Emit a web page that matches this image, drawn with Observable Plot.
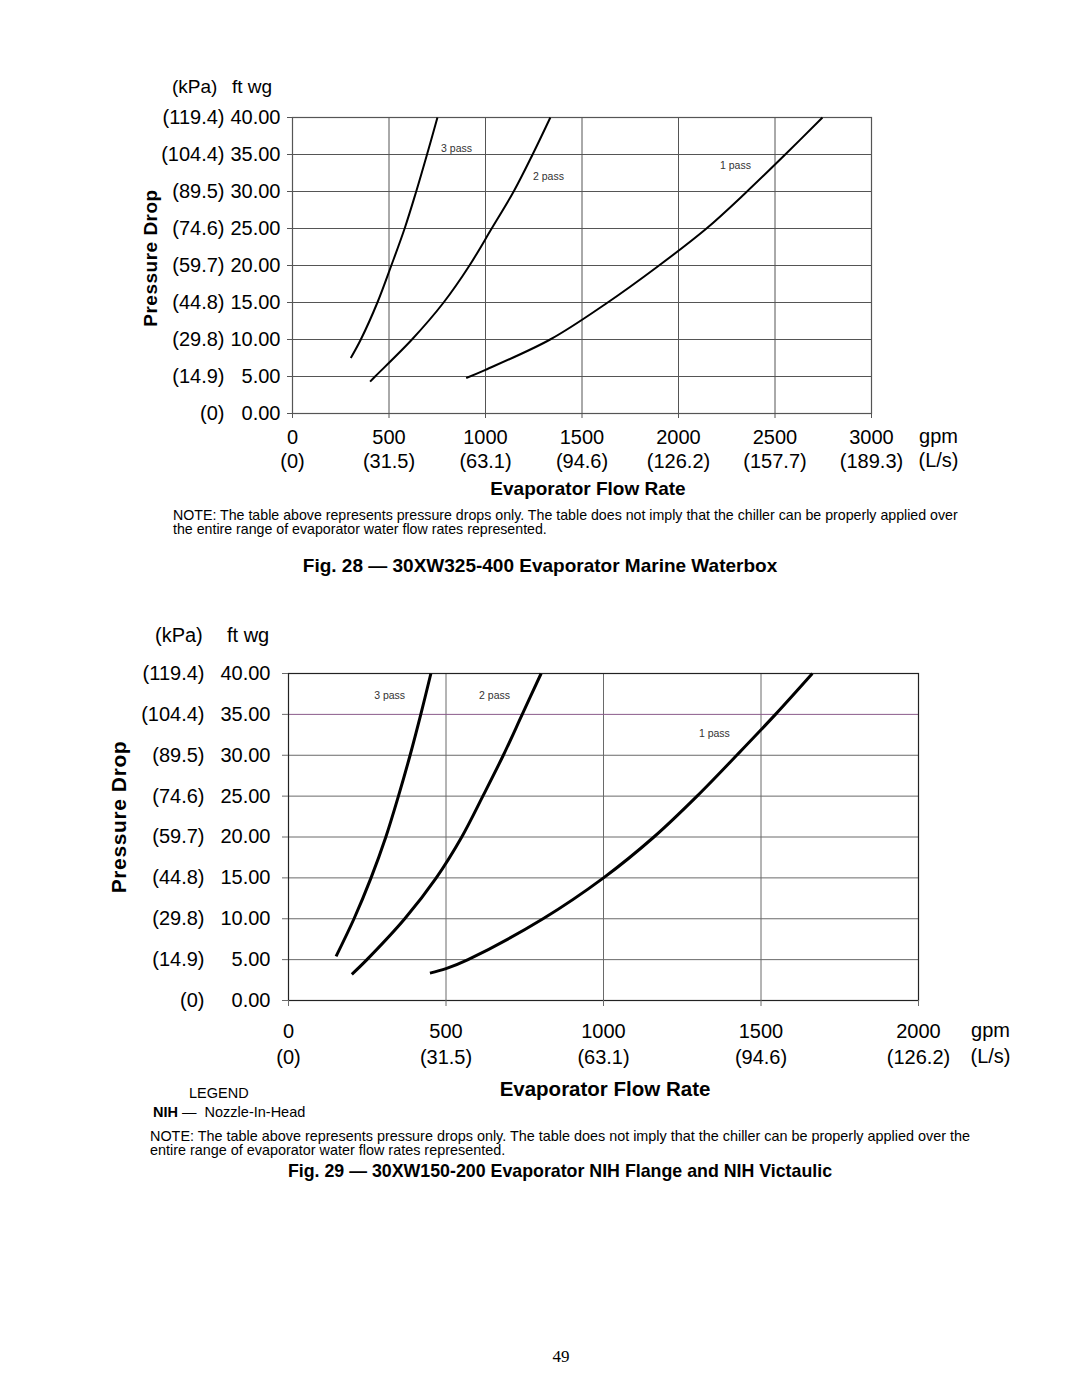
<!DOCTYPE html>
<html>
<head>
<meta charset="utf-8">
<script src="https://cdn.jsdelivr.net/npm/d3@7"></script>
<script src="https://cdn.jsdelivr.net/npm/@observablehq/plot@0.6"></script>
<style>
  html, body { margin: 0; padding: 0; background: #fff; }
  #page { position: relative; width: 1080px; height: 1397px; background: #fff; overflow: hidden;
          font-family: "Liberation Sans", Arial, Helvetica, sans-serif; color: #000; }
  .t { position: absolute; white-space: nowrap; line-height: 1; }
  .b { font-weight: bold; }
  svg { position: absolute; left: 0; overflow: visible; }
</style>
</head>
<body>
<div id="page">
  <!-- Figure 28 texts -->
  <div class="t" style="left:172px; top:77px; font-size:19px;">(kPa)</div>
  <div class="t" style="left:232px; top:77px; font-size:19px;">ft wg</div>
  <div class="t b" style="left:150px; top:258px; font-size:19px; transform: translate(-50%,-50%) rotate(-90deg); letter-spacing:0.5px;">Pressure Drop</div>
  <div class="t b" style="left:588px; top:488px; font-size:19px; transform: translate(-50%,-50%);">Evaporator Flow Rate</div>
  <div class="t" style="left:173px; top:508px; font-size:14.2px; line-height:14px;">NOTE: The table above represents pressure drops only. The table does not imply that the chiller can be properly applied over<br>the entire range of evaporator water flow rates represented.</div>
  <div class="t b" style="left:540px; top:565px; font-size:19px; transform: translate(-50%,-50%);">Fig. 28 — 30XW325-400 Evaporator Marine Waterbox</div>

  <!-- Figure 29 texts -->
  <div class="t" style="left:155px; top:625px; font-size:20px;">(kPa)</div>
  <div class="t" style="left:227px; top:625px; font-size:20px;">ft wg</div>
  <div class="t b" style="left:118px; top:817px; font-size:21px; transform: translate(-50%,-50%) rotate(-90deg); letter-spacing:0.6px;">Pressure Drop</div>
  <div class="t b" style="left:605px; top:1089px; font-size:20.5px; transform: translate(-50%,-50%);">Evaporator Flow Rate</div>
  <div class="t" style="left:189px; top:1086px; font-size:14.5px;">LEGEND</div>
  <div class="t" style="left:153px; top:1105px; font-size:14.5px;"><b>NIH</b> —&nbsp; Nozzle-In-Head</div>
  <div class="t" style="left:150px; top:1129px; font-size:14.4px; line-height:14px;">NOTE: The table above represents pressure drops only. The table does not imply that the chiller can be properly applied over the<br>entire range of evaporator water flow rates represented.</div>
  <div class="t b" style="left:560px; top:1172px; font-size:17.8px; transform: translate(-50%,-50%);">Fig. 29 — 30XW150-200 Evaporator NIH Flange and NIH Victaulic</div>

  <div class="t" style="left:561px; top:1356px; font-size:17px; font-family:'Liberation Serif','DejaVu Serif',serif; transform: translate(-50%,-50%);">49</div>
</div>
<script>
// ---------- shared tick data ----------
const ftTicks = [0, 5, 10, 15, 20, 25, 30, 35, 40];
const ftLabels = ["0.00", "5.00", "10.00", "15.00", "20.00", "25.00", "30.00", "35.00", "40.00"];
const kpaLabels = ["(0)", "(14.9)", "(29.8)", "(44.8)", "(59.7)", "(74.6)", "(89.5)", "(104.4)", "(119.4)"];

// ---------- Fig. 28 data ----------
const gpmTicks28 = [0, 500, 1000, 1500, 2000, 2500, 3000];
const lpsLabels28 = ["(0)", "(31.5)", "(63.1)", "(94.6)", "(126.2)", "(157.7)", "(189.3)"];
const flow28_3pass = [302, 354, 440, 512, 581, 641, 697, 751];
const drop28_3pass = [7.5, 10, 15, 20, 25, 30, 35, 40];
const flow28_2pass = [402, 428, 619, 783, 917, 1032, 1146, 1244, 1336];
const drop28_2pass = [4.3, 5, 10, 15, 20, 25, 30, 35, 40];
const flow28_1pass = [900, 1000, 1335, 1622, 1894, 2145, 2347, 2553, 2746];
const drop28_1pass = [4.8, 5.9, 10, 14.8, 19.9, 25, 29.8, 35, 40];
const passNames = ["3 pass", "2 pass", "1 pass"];
const labelFlow28 = [850, 1326, 2295];
const labelDrop28 = [35.8, 32.0, 33.5];

// ---------- Fig. 29 data ----------
const gpmTicks29 = [0, 500, 1000, 1500, 2000];
const lpsLabels29 = ["(0)", "(31.5)", "(63.1)", "(94.6)", "(126.2)"];
const flow29_3pass = [151, 208, 262, 309, 349, 386, 420, 452];
const drop29_3pass = [5.4, 10, 15, 20, 25, 30, 35, 40];
const flow29_2pass = [201, 249, 369, 469, 550, 617, 682, 742, 802];
const drop29_2pass = [3.2, 5, 10, 15, 20, 25, 30, 35, 40];
const flow29_1pass = [449, 500, 570, 808, 1000, 1160, 1297, 1423, 1546, 1663];
const drop29_1pass = [3.35, 3.9, 5, 10, 15, 20, 25, 30, 35, 40];
const labelFlow29 = [321, 654, 1352];
const labelDrop29 = [37.3, 37.3, 32.6];

const FONT = "'Liberation Sans', Arial, Helvetica, sans-serif";
const zip = (xs, ys) => xs.map((x, i) => ({flow: x, drop: ys[i]}));
const ftFmt = d => ftLabels[ftTicks.indexOf(d)];
const kpaFmt = d => kpaLabels[ftTicks.indexOf(d)];

function chart(opts) {
  const {gpmTicks, lpsLabels, curves, labels, xmax, width, height, mL, mR, mT, mB,
         gridColor, frameColor, lineWidth, tick, ftPad, kpaPad, gpmPad, lpsPad, unitDx, gpmDy, lpsDy, extraGrid} = opts;
  const lpsFmt = d => lpsLabels[gpmTicks.indexOf(d)];
  const marks = [
    Plot.gridX(gpmTicks, {stroke: gridColor, strokeOpacity: 1, strokeWidth: 1}),
    Plot.gridY(ftTicks.filter(d => !extraGrid || d !== extraGrid.value), {stroke: gridColor, strokeOpacity: 1, strokeWidth: 1}),
  ];
  if (extraGrid) marks.push(Plot.gridY([extraGrid.value], {stroke: extraGrid.color, strokeOpacity: 1, strokeWidth: 1}));
  marks.push(
    Plot.frame({stroke: frameColor, strokeWidth: 1.2}),
    Plot.axisY(ftTicks, {tickSize: tick, tickPadding: ftPad, tickFormat: ftFmt, label: null, stroke: gridColor, fontSize: 20}),
    Plot.axisY(ftTicks, {tickSize: 0, tickPadding: kpaPad, tickFormat: kpaFmt, label: null, fontSize: 20}),
    Plot.axisX(gpmTicks, {tickSize: tick, tickPadding: gpmPad, tickFormat: d => String(d), label: null, stroke: gridColor, fontSize: 20}),
    Plot.axisX(gpmTicks, {tickSize: 0, tickPadding: lpsPad, tickFormat: lpsFmt, label: null, fontSize: 20}),
    Plot.text(["gpm"], {frameAnchor: "bottom-right", textAnchor: "middle", lineAnchor: "middle", dx: unitDx, dy: gpmDy, fontSize: 20}),
    Plot.text(["(L/s)"], {frameAnchor: "bottom-right", textAnchor: "middle", lineAnchor: "middle", dx: unitDx, dy: lpsDy, fontSize: 20}),
  );
  curves.forEach(c => marks.push(Plot.line(c, {x: "flow", y: "drop", curve: "catmull-rom", stroke: "#000", strokeWidth: lineWidth, strokeLinecap: "butt"})));
  marks.push(Plot.text(labels, {x: "flow", y: "drop", text: "name", fontSize: 10.5, fill: "#333"}));
  return Plot.plot({
    width, height, marginLeft: mL, marginRight: mR, marginTop: mT, marginBottom: mB,
    x: {domain: [0, xmax]}, y: {domain: [0, 40]},
    style: {fontFamily: FONT, fontSize: "20px", color: "#000", background: "transparent", overflow: "visible"},
    marks
  });
}

const page = document.getElementById("page");

const svg28 = chart({
  gpmTicks: gpmTicks28, lpsLabels: lpsLabels28, xmax: 3000,
  curves: [zip(flow28_3pass, drop28_3pass), zip(flow28_2pass, drop28_2pass), zip(flow28_1pass, drop28_1pass)],
  labels: passNames.map((n, i) => ({name: n, flow: labelFlow28[i], drop: labelDrop28[i]})),
  width: 1080, height: 380, mL: 292, mR: 209, mT: 17, mB: 67,
  gridColor: "#555", frameColor: "#555", lineWidth: 2, tick: 5,
  ftPad: 7, kpaPad: 68, gpmPad: 11, lpsPad: 40, unitDx: 67, gpmDy: 23, lpsDy: 47
});
svg28.style.top = "100px";
page.appendChild(svg28);

const svg29 = chart({
  gpmTicks: gpmTicks29, lpsLabels: lpsLabels29, xmax: 2000,
  curves: [zip(flow29_3pass, drop29_3pass), zip(flow29_2pass, drop29_2pass), zip(flow29_1pass, drop29_1pass)],
  labels: passNames.map((n, i) => ({name: n, flow: labelFlow29[i], drop: labelDrop29[i]})),
  width: 1080, height: 425, mL: 288, mR: 162, mT: 23, mB: 75,
  gridColor: "#6a6a6a", frameColor: "#222", lineWidth: 3, tick: 6,
  ftPad: 12, kpaPad: 84, gpmPad: 17, lpsPad: 49, unitDx: 72, gpmDy: 30, lpsDy: 56,
  extraGrid: {value: 35, color: "#8a5a8a"}
});
svg29.style.top = "650px";
page.appendChild(svg29);
</script>
</body>
</html>
